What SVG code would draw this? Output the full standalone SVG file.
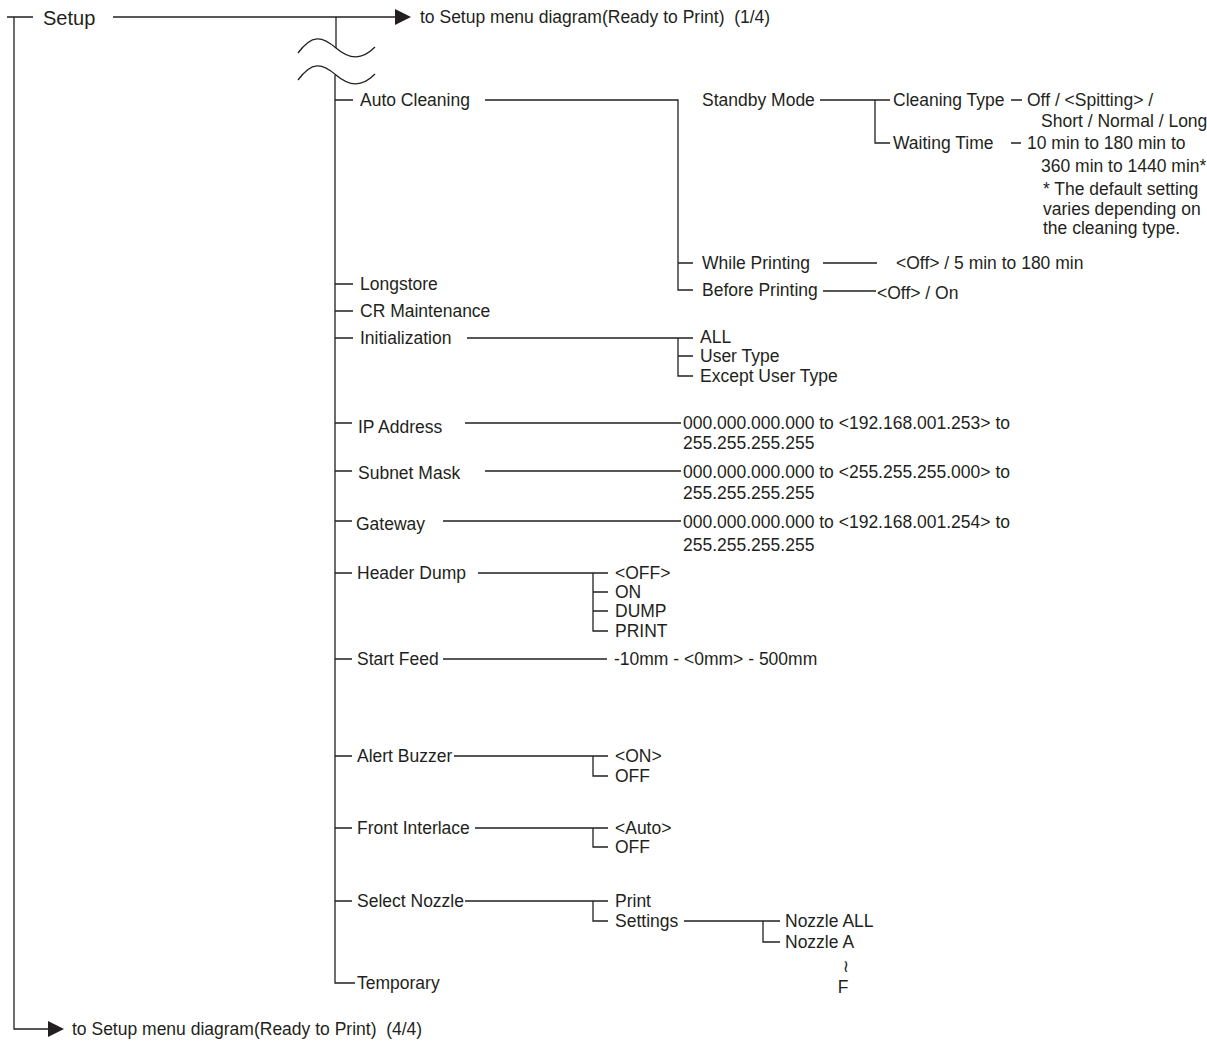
<svg xmlns="http://www.w3.org/2000/svg" width="1207" height="1041" viewBox="0 0 1207 1041">
<style>
text{font-family:"Liberation Sans",Arial,sans-serif;font-size:17.5px;fill:#231f20}
.big{font-size:20px}
.ln{stroke:#231f20;stroke-width:1.3;fill:none}
.ah{fill:#231f20;stroke:none}
</style>
<rect width="1207" height="1041" fill="#ffffff"/>
<g id="connectors">
<path class="ln" d="M7,17H33M14,17V1029H50"/>
<polygon class="ah" points="48,1021 64,1029 48,1037"/>
<path class="ln" d="M113,17H397"/>
<polygon class="ah" points="395,9 411,17 395,25"/>
<path class="ln" d="M336,17V48"/>
<path class="ln" d="M298,53C312,34 322,36 336,48C350,60 362,60 375,47"/>
<path class="ln" d="M298,80C312,61 322,63 336,75C350,87 362,87 375,74"/>
<path class="ln" d="M335,75V983H355"/>
<path class="ln" d="M335,100H353M335,284H353M335,311H353M335,338H353M335,423H352M335,471H352M335,521H352M335,573H352M335,659H352M335,756H352M335,828H352M335,901H352"/>
<path class="ln" d="M485,100H678V290H693M678,263H693"/>
<path class="ln" d="M820,100H890M875,100V143H890"/>
<path class="ln" d="M1011,100H1022M1011,143H1021"/>
<path class="ln" d="M823,263H877M823,291H876"/>
<path class="ln" d="M467,338H693M678,338V376H693M678,356H693"/>
<path class="ln" d="M465,423H681M485,471H681M443,521H681"/>
<path class="ln" d="M478,573H608M593,573V631H608M593,592H608M593,611H608"/>
<path class="ln" d="M443,659H607"/>
<path class="ln" d="M454,756H608M593,756V776H608"/>
<path class="ln" d="M475,828H608M593,828V847H608"/>
<path class="ln" d="M465,901H608M593,901V921H608"/>
<path class="ln" d="M684,921H780M763,921V942H780"/>
</g>
<g id="setup"><text class="big" x="43" y="25">Setup</text></g>
<g id="to-menu-1-4"><text x="420" y="23">to Setup menu diagram(Ready to Print)&#160; (1/4)</text></g>
<g id="auto-cleaning"><text x="360" y="106">Auto Cleaning</text></g>
<g id="standby-mode"><text x="702" y="106">Standby Mode</text></g>
<g id="cleaning-type"><text x="893" y="106">Cleaning Type</text></g>
<g id="cleaning-type-values"><text x="1027" y="106">Off / &lt;Spitting&gt; /</text><text x="1041" y="127">Short / Normal / Long</text></g>
<g id="waiting-time"><text x="893" y="149">Waiting Time</text></g>
<g id="waiting-time-values"><text x="1027" y="149">10 min to 180 min to</text><text x="1041" y="172">360 min to 1440 min*</text><text x="1043" y="195">* The default setting</text><text x="1043" y="215">varies depending on</text><text x="1043" y="234">the cleaning type.</text></g>
<g id="while-printing"><text x="702" y="269">While Printing</text></g>
<g id="while-printing-value"><text x="896" y="269">&lt;Off&gt; / 5 min to 180 min</text></g>
<g id="before-printing"><text x="702" y="296">Before Printing</text></g>
<g id="before-printing-value"><text x="877" y="299">&lt;Off&gt; / On</text></g>
<g id="longstore"><text x="360" y="290">Longstore</text></g>
<g id="cr-maintenance"><text x="360" y="317">CR Maintenance</text></g>
<g id="initialization"><text x="360" y="344">Initialization</text></g>
<g id="init-all"><text x="700" y="343">ALL</text></g>
<g id="init-user-type"><text x="700" y="362">User Type</text></g>
<g id="init-except-user-type"><text x="700" y="382">Except User Type</text></g>
<g id="ip-address"><text x="358" y="433">IP Address</text></g>
<g id="ip-address-value"><text x="683" y="429">000.000.000.000 to &lt;192.168.001.253&gt; to</text><text x="683" y="449">255.255.255.255</text></g>
<g id="subnet-mask"><text x="358" y="479">Subnet Mask</text></g>
<g id="subnet-mask-value"><text x="683" y="478">000.000.000.000 to &lt;255.255.255.000&gt; to</text><text x="683" y="499">255.255.255.255</text></g>
<g id="gateway"><text x="356" y="530">Gateway</text></g>
<g id="gateway-value"><text x="683" y="528">000.000.000.000 to &lt;192.168.001.254&gt; to</text><text x="683" y="551">255.255.255.255</text></g>
<g id="header-dump"><text x="357" y="579">Header Dump</text></g>
<g id="hd-off"><text x="615" y="579">&lt;OFF&gt;</text></g>
<g id="hd-on"><text x="615" y="598">ON</text></g>
<g id="hd-dump"><text x="615" y="617">DUMP</text></g>
<g id="hd-print"><text x="615" y="637">PRINT</text></g>
<g id="start-feed"><text x="357" y="665">Start Feed</text></g>
<g id="start-feed-value"><text x="614" y="665">-10mm - &lt;0mm&gt; - 500mm</text></g>
<g id="alert-buzzer"><text x="357" y="762">Alert Buzzer</text></g>
<g id="ab-on"><text x="615" y="762">&lt;ON&gt;</text></g>
<g id="ab-off"><text x="615" y="782">OFF</text></g>
<g id="front-interlace"><text x="357" y="834">Front Interlace</text></g>
<g id="fi-auto"><text x="615" y="834">&lt;Auto&gt;</text></g>
<g id="fi-off"><text x="615" y="853">OFF</text></g>
<g id="select-nozzle"><text x="357" y="907">Select Nozzle</text></g>
<g id="sn-print"><text x="615" y="907">Print</text></g>
<g id="sn-settings"><text x="615" y="927">Settings</text></g>
<g id="nozzle-all"><text x="785" y="927">Nozzle ALL</text></g>
<g id="nozzle-a"><text x="785" y="948">Nozzle A</text></g>
<g id="nozzle-range"><text x="846" y="972" style="font-family:'DejaVu Sans',sans-serif;font-size:17px" text-anchor="middle">≀</text><text x="843" y="993" text-anchor="middle">F</text></g>
<g id="temporary"><text x="357" y="989">Temporary</text></g>
<g id="to-menu-4-4"><text x="72" y="1035">to Setup menu diagram(Ready to Print)&#160; (4/4)</text></g>
</svg>
